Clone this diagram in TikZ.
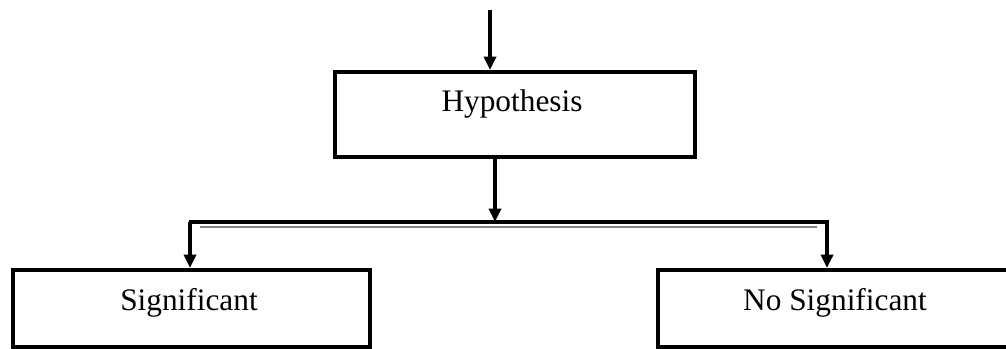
\documentclass[tikz,border=0pt]{standalone}
\usepackage{fontspec}
\setmainfont{Liberation Serif}
\usetikzlibrary{arrows.meta}
\tikzset{
  box/.style={draw=black, line width=3pt, rectangle, inner sep=0pt},
  lbl/.style={font=\fontsize{23.5}{26}\selectfont, anchor=base, inner sep=0pt},
  flow/.style={draw=black, line width=3pt, -{Triangle[length=10pt,width=9pt]}},
  rail/.style={draw=black, line width=3pt},
  rim/.style={draw=black!50, line width=1.5pt},
}
\begin{document}
\begin{tikzpicture}[x=0.75pt, y=-0.75pt]
  \clip (0,0) rectangle (1006,349);
  \fill[white] (0,0) rectangle (1006,349);

  % boxes
  \node[box, minimum width=360*0.75pt, minimum height=85*0.75pt] (hyp) at (515,114.5) {};
  \node[box, minimum width=357*0.75pt, minimum height=77*0.75pt] (sig) at (191.5,308.5) {};
  \node[box, minimum width=360*0.75pt, minimum height=77*0.75pt] (nosig) at (838,308.5) {};

  % labels
  \node[lbl] (hyptxt) at (512,112) {Hypothesis};
  \node[lbl] (sigtxt) at (189,310) {Significant};
  \node[lbl] (nosigtxt) at (835,310) {No Significant};

  % connector points
  \coordinate (in) at (490,10);
  \coordinate (split) at (495,222);
  \coordinate (bl) at (190,222);
  \coordinate (br) at (827,222);

  % incoming arrow
  \draw[flow] (in) -- (in |- hyp.north);

  % branch
  \draw[flow] (hyp.south -| split) -- (split);
  \draw[rail] ([xshift=-1.5*0.75pt]bl) -- ([xshift=1.5*0.75pt]br);
  \draw[rim] ([shift={(10,4.5)}]bl) -- ([shift={(-10,4.5)}]br);
  \draw[flow] (bl) -- (bl |- sig.north);
  \draw[flow] (br) -- (br |- nosig.north);
\end{tikzpicture}
\end{document}
